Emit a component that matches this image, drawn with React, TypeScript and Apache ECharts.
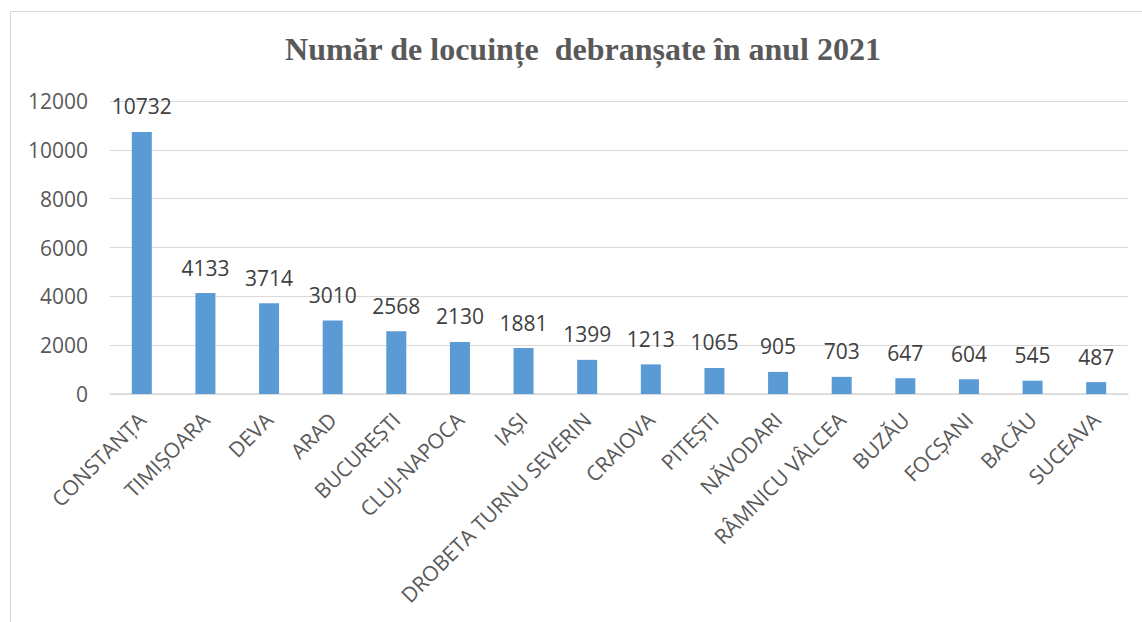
import React, { useEffect, useRef } from "react";
import * as echarts from "echarts";

const categories = [
  "CONSTANȚA", "TIMIȘOARA", "DEVA", "ARAD", "BUCUREȘTI", "CLUJ-NAPOCA", "IAȘI",
  "DROBETA TURNU SEVERIN", "CRAIOVA", "PITEȘTI", "NĂVODARI", "RÂMNICU VÂLCEA",
  "BUZĂU", "FOCȘANI", "BACĂU", "SUCEAVA",
];
const values = [10732, 4133, 3714, 3010, 2568, 2130, 1881, 1399, 1213, 1065, 905, 703, 647, 604, 545, 487];
const titleText = "Număr de locuințe  debranșate în anul 2021";
const yMin = 0;
const yMax = 12000;
const yInterval = 2000;

export default function App() {
  const ref = useRef<HTMLDivElement>(null);
  useEffect(() => {
    if (!ref.current) return;
    const chart = echarts.init(ref.current, undefined, { renderer: "svg" });
    chart.setOption({
      animation: false,
      backgroundColor: "#ffffff",
      title: {
        text: titleText,
        left: 578,
        top: 28,
        textAlign: "center",
        textStyle: {
          fontFamily: "'Liberation Serif', 'Times New Roman', serif",
          fontWeight: "bold",
          fontSize: 32,
          color: "#595959",
        },
      },
      graphic: [
        {
          type: "rect",
          shape: { x: 10.5, y: 11.5, width: 1300, height: 800 },
          style: { fill: "none", stroke: "#d9d9d9", lineWidth: 1 },
          silent: true,
          z: -1,
        },
      ],
      grid: { left: 110, right: 14, top: 101, bottom: 228, containLabel: false },
      xAxis: {
        type: "category",
        data: categories,
        axisLine: { show: true, lineStyle: { color: "#d9d9d9", width: 1.5 } },
        axisTick: { show: false },
        axisLabel: {
          rotate: 45,
          interval: 0,
          margin: 22,
          fontFamily: "'Open Sans', sans-serif",
          fontSize: 21,
          color: "#595959",
        },
      },
      yAxis: {
        type: "value",
        min: yMin,
        max: yMax,
        interval: yInterval,
        axisLine: { show: false },
        axisTick: { show: false },
        splitLine: { lineStyle: { color: "#d9d9d9", width: 1 } },
        axisLabel: {
          margin: 22,
          formatter: (v: number) => String(v),
          fontFamily: "'Open Sans', sans-serif",
          fontSize: 21,
          color: "#595959",
        },
      },
      series: [
        {
          type: "bar",
          data: values,
          barWidth: 20,
          itemStyle: { color: "#5B9BD5" },
          label: {
            show: true,
            position: "top",
            distance: 15,
            fontFamily: "'Open Sans', sans-serif",
            fontSize: 21,
            color: "#404040",
          },
        },
      ],
    });
    return () => chart.dispose();
  }, []);
  return (
    <div
      ref={ref}
      style={{ position: "fixed", left: 0, top: 0, width: 1142, height: 622 }}
    />
  );
}
